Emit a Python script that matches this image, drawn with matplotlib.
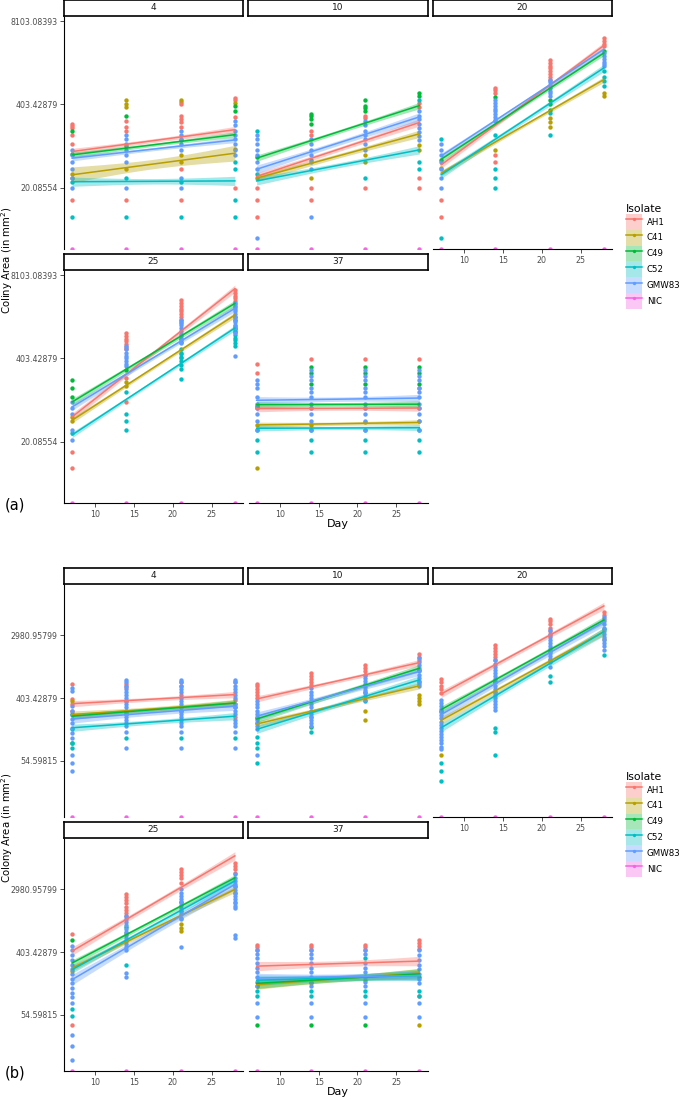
import numpy as np
import matplotlib.pyplot as plt
from matplotlib.patches import Patch
from matplotlib.lines import Line2D

ISOLATES = ['AH1', 'C41', 'C49', 'C52', 'GMW83', 'NIC']
COLORS = ['#F8766D', '#B79F00', '#00BA38', '#00BFC4', '#619CFF', '#F564E3']
TEMPS = [4, 10, 20, 25, 37]
DAYS = [7, 14, 21, 28]
NIC_AREA = 0.0   # no growth -> log(0) = -Inf, drawn on the lower panel edge

# ln(colony area) per isolate, one list per day -- experiment (a)
A4_PTS = {
    'AH1': [[5.30, 5.23, 5.15, 4.91, 4.58, 2.55], [5.39, 5.20, 5.05, 2.55],
            [6.10, 6.00, 5.57, 5.47, 5.35, 5.20, 3.66, 2.55], [6.22, 6.15, 5.55, 3.00]],
    'C41': [[3.50, 3.36], [6.15, 6.00, 5.90, 3.66], [6.17, 4.16, 3.94], [6.05, 4.40]],
    'C49': [[5.05, 4.20], [5.57, 4.50], [4.70], [5.95, 5.75]],
    'C52': [[3.20, 1.95], [3.36, 1.95], [3.20, 1.95], [3.94, 3.66, 2.55, 1.95]],
    'GMW83': [[4.36, 4.16, 3.94, 3.66, 3.36, 3.00], [4.90, 4.75, 4.58, 4.36, 4.16, 3.94, 3.00],
              [5.05, 4.90, 4.75, 4.58, 4.36, 3.36, 3.00], [5.40, 5.25, 5.05, 4.90, 4.75, 4.58, 4.36, 4.16]],
}
A10_PTS = {
    'AH1': [[3.00, 2.55, 1.95], [5.05, 4.91, 3.00, 2.55], [5.60, 5.50, 3.00], [6.05, 5.92, 3.36, 3.00]],
    'C41': [[3.36], [3.36], [4.16, 3.94], [4.55, 4.36]],
    'C49': [[4.10], [5.67, 5.57, 5.47, 5.30], [6.15, 5.96, 5.87, 5.75], [6.40, 6.30]],
    'C52': [[5.06, 3.50], [4.00], [3.36], [6.17, 3.94, 3.66]],
    'GMW83': [[4.91, 4.75, 4.58, 4.36, 4.16, 3.94, 3.66, 1.16], [4.75, 4.58, 4.36, 4.16, 3.94, 3.66, 1.95],
              [5.40, 5.25, 5.05, 4.90, 4.75, 4.58, 4.36], [5.75, 5.60, 5.47, 5.30, 5.15, 5.00, 4.85, 4.70]],
}
A20_PTS = {
    'AH1': [[2.55, 1.95], [6.60, 6.51, 6.42, 4.16, 3.94], [7.60, 7.50, 7.40, 7.30, 7.20, 7.10, 7.00, 6.90],
            [8.41, 8.30, 8.20, 8.10]],
    'C41': [[3.70], [4.36], [5.50, 5.35, 5.20], [6.42, 6.30]],
    'C49': [[4.00], [6.28], [6.17, 6.00, 5.80], [7.93]],
    'C52': [[4.75, 1.16], [4.91, 3.66, 3.36, 3.00], [5.70, 4.91], [7.20, 7.00, 6.85, 6.66]],
    'GMW83': [[4.58, 4.36, 4.16, 3.94, 3.66, 3.36, 3.00], [6.17, 6.05, 5.95, 5.85, 5.75, 5.65, 5.55, 5.45, 5.39],
              [6.90, 6.80, 6.70, 6.60, 6.50, 6.40, 6.30], [7.86, 7.75, 7.65, 7.55, 7.45, 7.38]],
}
A25_PTS = {
    'AH1': [[2.62, 2.05], [6.92, 6.82, 6.72, 6.62, 6.52, 6.42, 6.33, 5.30, 4.43],
            [8.11, 8.00, 7.90, 7.80, 7.70, 7.60, 7.50, 7.40, 7.28], [8.47, 8.37, 8.27, 8.17, 8.07, 7.97, 7.87]],
    'C41': [[3.74, 3.90], [5.00, 5.15], [6.00, 6.15], [7.00, 7.10]],
    'C49': [[5.24, 4.93, 4.61], [5.60], [6.60, 6.70], [7.40, 7.50]],
    'C52': [[3.30], [4.78, 3.98, 3.74, 3.42], [6.33, 6.20, 6.05, 5.90, 5.75, 5.62, 5.26],
            [7.16, 7.05, 6.95, 6.85, 6.75, 6.65, 6.55, 6.45]],
    'GMW83': [[4.43, 4.21, 3.98, 3.42, 3.06], [6.45, 6.33, 6.20, 6.10, 6.00, 5.90, 5.80, 5.73],
              [7.40, 7.30, 7.20, 7.10, 7.00, 6.90, 6.80, 6.70, 6.57],
              [7.99, 7.90, 7.80, 7.70, 7.60, 7.50, 7.40, 7.30, 7.20, 7.10, 6.92, 6.09]],
}
A37_PTS = {
    'AH1': [[5.79, 5.47, 4.20], [5.97, 4.20], [5.97, 4.20], [5.97, 4.93, 4.20]],
    'C41': [[3.60, 2.05], [3.60], [3.70], [3.74]],
    'C49': [[4.30], [5.71, 5.47, 5.08], [5.71, 5.47, 5.08], [5.71, 5.47, 5.08]],
    'C52': [[3.42, 3.06, 2.62], [3.42, 3.06, 2.62], [3.42, 3.06, 2.62], [3.42, 3.06, 2.62]],
    'GMW83': [[5.24, 5.08, 4.93, 4.61, 4.37, 4.21, 3.98, 3.74, 3.42],
              [5.60, 5.35, 5.24, 4.93, 4.78, 4.61, 4.37, 4.21, 3.98, 3.74, 3.42],
              [5.60, 5.35, 5.24, 4.93, 4.78, 4.61, 4.37, 4.21, 3.98, 3.74, 3.42],
              [5.60, 5.35, 5.24, 4.93, 4.78, 4.61, 4.37, 4.21, 3.98, 3.74, 3.42]],
}

# lm fits: (value at day 7, value at day 28, CI half width at mid)
A4_FIT = {'AH1': (4.30, 5.09, 0.07), 'C41': (3.46, 4.24, 0.17), 'C49': (4.18, 4.91, 0.06),
          'C52': (3.21, 3.24, 0.10), 'GMW83': (4.06, 4.72, 0.06)}
A10_FIT = {'AH1': (3.40, 5.35, 0.08), 'C41': (3.34, 4.94, 0.08), 'C49': (4.06, 5.96, 0.07),
           'C52': (3.24, 4.36, 0.09), 'GMW83': (3.66, 5.55, 0.09)}
A20_FIT = {'AH1': (3.82, 8.13, 0.07), 'C41': (3.52, 6.90, 0.06), 'C49': (4.02, 7.86, 0.06),
           'C52': (3.46, 7.32, 0.08), 'GMW83': (4.14, 7.99, 0.06)}
A25_FIT = {'AH1': (3.89, 8.52, 0.08), 'C41': (3.77, 7.57, 0.06), 'C49': (4.43, 7.99, 0.07),
           'C52': (3.24, 7.10, 0.06), 'GMW83': (4.25, 7.81, 0.07)}
A37_FIT = {'AH1': (4.19, 4.21, 0.07), 'C41': (3.60, 3.69, 0.06), 'C49': (4.33, 4.35, 0.07),
           'C52': (3.48, 3.50, 0.06), 'GMW83': (4.49, 4.57, 0.08)}

# experiment (b)
B4_PTS = {
    'AH1': [[6.46, 5.97, 5.82, 5.60], [6.46, 6.35, 5.90], [6.50, 6.40, 6.10], [6.50, 5.95, 5.40]],
    'C41': [[5.90], [5.60], [5.70], [5.80]],
    'C49': [[5.50, 4.57], [5.50], [5.60], [5.70]],
    'C52': [[5.00, 4.57, 4.39], [4.73], [4.73], [4.73]],
    'GMW83': [[6.32, 6.24, 5.74, 5.58, 5.47, 5.33, 5.21, 5.05, 4.89, 4.73, 4.18, 3.94, 3.67],
              [6.58, 6.50, 6.40, 6.30, 6.20, 6.10, 6.00, 5.90, 5.80, 5.70, 5.60, 5.50, 5.40, 5.30, 5.20, 5.10, 4.90, 4.39],
              [6.58, 6.50, 6.40, 6.30, 6.20, 6.00, 5.90, 5.80, 5.70, 5.60, 5.50, 5.40, 5.30, 5.20, 5.10, 4.90, 4.39],
              [6.58, 6.50, 6.40, 6.30, 6.20, 6.10, 6.00, 5.80, 5.70, 5.60, 5.50, 5.30, 5.20, 5.10, 4.90, 4.39]],
}
B10_PTS = {
    'AH1': [[6.46, 6.38, 6.30, 6.20, 6.10, 6.00], [6.79, 6.70, 6.60, 6.50, 6.42], [7.06, 6.95, 6.85, 6.74],
            [7.40, 7.30, 7.22]],
    'C41': [[5.20], [5.40], [5.58, 5.31], [6.10, 6.00, 5.90, 5.80]],
    'C49': [[5.35], [5.07], [6.20], [6.90]],
    'C52': [[4.75, 4.57, 4.39, 3.94], [4.91], [5.90], [6.50]],
    'GMW83': [[5.89, 5.80, 5.70, 5.60, 5.50, 5.40, 5.30, 5.20, 5.10, 5.00, 4.18],
              [6.32, 6.20, 6.10, 6.00, 5.90, 5.80, 5.70, 5.60, 5.50, 5.40, 5.30, 5.20, 5.10],
              [6.74, 6.65, 6.55, 6.45, 6.35, 6.25, 6.15, 6.05, 5.95],
              [7.27, 7.15, 7.05, 6.95, 6.85, 6.75, 6.65, 6.55, 6.45, 6.37]],
}
B20_PTS = {
    'AH1': [[6.60, 6.50, 6.40, 6.30, 6.16], [7.69, 7.60, 7.50, 7.40, 7.30, 7.22],
            [8.54, 8.45, 8.35, 8.25, 8.15, 8.01], [8.75, 8.65, 8.54]],
    'C41': [[4.18], [6.20], [7.20], [7.90]],
    'C49': [[5.60], [6.50], [7.50], [8.20]],
    'C52': [[3.94, 3.67, 3.35], [5.05, 4.91, 4.18], [6.69, 6.51], [7.38]],
    'GMW83': [[5.95, 5.85, 5.75, 5.65, 5.55, 5.45, 5.35, 5.25, 5.15, 5.05, 4.95, 4.85, 4.75, 4.65, 4.55, 4.45, 4.36],
              [7.22, 7.10, 7.00, 6.90, 6.80, 6.70, 6.60, 6.50, 6.40, 6.30, 6.20, 6.10, 6.00, 5.90, 5.80, 5.70, 5.63],
              [8.17, 8.05, 7.95, 7.85, 7.75, 7.65, 7.55, 7.45, 7.35, 7.25, 7.15, 7.00],
              [8.59, 8.45, 8.35, 8.25, 8.15, 8.05, 7.95, 7.85, 7.75, 7.65, 7.53]],
}
B25_PTS = {
    'AH1': [[6.59, 3.68], [7.84, 7.75, 7.65, 7.55, 7.45, 7.35, 7.25, 7.15], [8.64, 8.55, 8.45, 8.35, 8.21],
            [8.85, 8.75, 8.65, 8.53]],
    'C41': [[5.40], [6.60], [6.88, 6.78, 6.67], [7.60]],
    'C49': [[6.38], [6.80], [7.60], [8.10]],
    'C52': [[4.18, 3.95], [5.57], [7.30], [7.90]],
    'GMW83': [[6.19, 6.05, 5.90, 5.75, 5.60, 5.45, 5.30, 5.15, 5.00, 4.85, 4.70, 4.55, 4.37, 3.36, 2.99, 2.54],
              [7.15, 7.05, 6.95, 6.85, 6.75, 6.65, 6.55, 6.45, 6.35, 6.25, 6.15, 6.08, 5.33, 5.19],
              [8.00, 7.90, 7.80, 7.70, 7.60, 7.50, 7.40, 7.30, 7.20, 7.10, 7.04, 6.17],
              [8.48, 8.38, 8.28, 8.18, 8.08, 7.98, 7.88, 7.78, 7.68, 7.58, 7.48, 7.41, 6.53, 6.45]],
}
B37_PTS = {
    'AH1': [[6.24, 6.16, 6.08], [6.24, 6.16, 6.08], [6.24, 6.16, 6.08], [6.38, 6.30, 6.20, 6.10, 4.59]],
    'C41': [[4.90], [5.00], [5.10], [3.68]],
    'C49': [[3.68], [3.68], [3.68], [5.20]],
    'C52': [[4.75, 4.59], [4.75, 4.59], [5.80, 4.75, 4.59], [4.75, 4.59]],
    'GMW83': [[6.08, 5.95, 5.80, 5.65, 5.50, 5.35, 5.20, 5.05, 4.91, 4.37, 3.93],
              [6.08, 5.95, 5.80, 5.65, 5.50, 5.35, 5.20, 5.05, 4.91, 4.37, 3.93],
              [6.08, 5.95, 5.65, 5.50, 5.35, 5.20, 5.05, 4.91, 4.37, 3.93],
              [6.05, 5.90, 5.75, 5.60, 5.45, 5.30, 5.15, 5.00, 4.37, 3.93]],
}

B4_FIT = {'AH1': (5.82, 6.11, 0.06), 'C41': (5.47, 5.84, 0.07), 'C49': (5.42, 5.84, 0.06),
          'C52': (5.05, 5.42, 0.07), 'GMW83': (5.33, 5.74, 0.08)}
B10_FIT = {'AH1': (5.97, 7.13, 0.06), 'C41': (5.17, 6.39, 0.06), 'C49': (5.33, 6.95, 0.07),
           'C52': (5.00, 6.58, 0.08), 'GMW83': (5.42, 6.85, 0.08)}
B20_FIT = {'AH1': (6.13, 8.94, 0.07), 'C41': (5.29, 8.12, 0.07), 'C49': (5.63, 8.49, 0.07),
           'C52': (5.05, 8.12, 0.08), 'GMW83': (5.47, 8.43, 0.08)}
B25_FIT = {'AH1': (6.03, 9.07, 0.08), 'C41': (5.49, 8.00, 0.06), 'C49': (5.65, 8.37, 0.06),
           'C52': (5.44, 8.27, 0.07), 'GMW83': (5.12, 8.16, 0.10)}
B37_FIT = {'AH1': (5.55, 5.71, 0.09), 'C41': (4.96, 5.33, 0.09), 'C49': (5.00, 5.30, 0.10),
           'C52': (5.10, 5.25, 0.10), 'GMW83': (5.17, 5.25, 0.09)}

A_PANELS = [(A4_PTS, A4_FIT), (A10_PTS, A10_FIT), (A20_PTS, A20_FIT), (A25_PTS, A25_FIT), (A37_PTS, A37_FIT)]
B_PANELS = [(B4_PTS, B4_FIT), (B10_PTS, B10_FIT), (B20_PTS, B20_FIT), (B25_PTS, B25_FIT), (B37_PTS, B37_FIT)]

W, H = 680, 1100
COL_X = [64, 248.5, 433]
PW, PH = 179, 232
TICK_C = '#4D4D4D'


def fig_box(x, y, w, h):
    # pixel box (top-left origin) -> figure fraction
    return [x / W, 1 - (y + h) / H, w / W, h / H]


def draw_panel(ax, pts, fit, ylim):
    for iso, col in zip(ISOLATES[:-1], COLORS[:-1]):
        for d, vals in zip(DAYS, pts[iso]):
            ax.scatter([d] * len(vals), vals, s=10, color=col, lw=0, zorder=2)
    nic = np.log(np.full(len(DAYS), NIC_AREA) + 1e-300)
    ax.scatter(DAYS, np.maximum(nic, ylim[0]), s=10, color=COLORS[-1], lw=0, zorder=2)
    xs = np.linspace(DAYS[0], DAYS[-1], 60)
    for iso, col in zip(ISOLATES[:-1], COLORS[:-1]):
        y0, y1, w = fit[iso]
        ys = y0 + (y1 - y0) * (xs - DAYS[0]) / (DAYS[-1] - DAYS[0])
        hw = w * np.sqrt(1 + (xs - 17.5) ** 2 / 61.25)
        ax.fill_between(xs, ys - hw, ys + hw, color=col, alpha=0.35, lw=0, zorder=3)
        ax.plot(xs, ys, color=col, lw=1.1, zorder=4)
    ax.set_xlim(5.95, 29.05)
    ax.set_ylim(*ylim)


def draw_block(fig, panels, top, ylim, yticks, ylabel, tag):
    rows = [top + 17, top + 271]
    for i, ((pts, fit), temp) in enumerate(zip(panels, TEMPS)):
        r, c = divmod(i, 3)
        ax = fig.add_axes(fig_box(COL_X[c], rows[r], PW, PH))
        draw_panel(ax, pts, fit, ylim)
        for s in ['top', 'right']:
            ax.spines[s].set_visible(False)
        ax.spines['left'].set_visible(c == 0)
        bottom_axis = (r == 1) or (i == 2)
        ax.spines['bottom'].set_visible(bottom_axis)
        for s in ['left', 'bottom']:
            ax.spines[s].set_linewidth(0.8)
        ax.set_xticks([10, 15, 20, 25])
        ax.set_yticks(yticks)
        ax.set_yticklabels(['%.5f' % np.exp(v) for v in yticks])
        ax.tick_params(axis='both', labelsize=5.7, labelcolor=TICK_C, color='#333333',
                       length=2.8, width=0.6, pad=2)
        ax.tick_params(axis='x', bottom=bottom_axis, labelbottom=bottom_axis)
        ax.tick_params(axis='y', left=(c == 0), labelleft=(c == 0))
        ax.set_facecolor('white')
        # facet strip
        sax = fig.add_axes(fig_box(COL_X[c], rows[r] - 17, PW, 16))
        sax.set_xticks([])
        sax.set_yticks([])
        for s in sax.spines.values():
            s.set_linewidth(1.2)
        sax.text(0.5, 0.5, str(temp), ha='center', va='center', fontsize=6.5, color='#1A1A1A')

    fig.text(7.5 / W, 1 - (top + 260) / H, ylabel, rotation=90, ha='center', va='center', fontsize=7.3)
    fig.text(338 / W, 1 - (top + 524) / H, 'Day', ha='center', va='center', fontsize=8)
    fig.text(5 / W, 1 - (top + 505) / H, tag, ha='left', va='center', fontsize=10.5)

    handles = []
    for col in COLORS:
        handles.append((Patch(facecolor=col, alpha=0.35, lw=0),
                        Line2D([], [], color=col, lw=1.1, marker='o', markersize=2.4, markeredgewidth=0)))
    fig.legend(handles, ISOLATES, title='Isolate', loc='upper left',
               bbox_to_anchor=(626 / W, 1 - (top + 204) / H), frameon=False,
               fontsize=6.2, title_fontsize=7.8, handlelength=1.85, handleheight=2.45,
               labelspacing=0.0, handletextpad=0.55, borderpad=0, borderaxespad=0,
               alignment='left')


fig = plt.figure(figsize=(W / 100, H / 100), dpi=100)
fig.patch.set_facecolor('white')
draw_block(fig, A_PANELS, 0, (0.78, 9.16), [3, 6, 9], 'Coliny Area (in mm$^2$)', '(a)')
draw_block(fig, B_PANELS, 568, (2.2, 9.61), [4, 6, 8], 'Colony Area (in mm$^2$)', '(b)')
fig.savefig('out.png', dpi=100)
